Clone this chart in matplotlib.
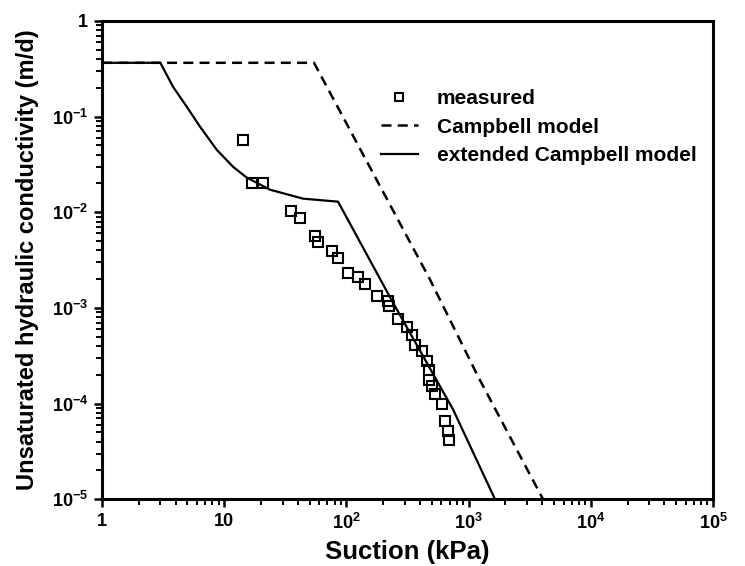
import matplotlib
matplotlib.use('Agg')
import matplotlib.pyplot as plt
from matplotlib.ticker import FixedLocator, FixedFormatter

# 数据
meas_suction = [14.3, 16.9, 20.8, 35.2, 41.7, 55.3, 58.0, 75.8, 85.3, 103, 124, 142, 177,
                217, 223, 264, 311, 344, 364, 413, 457, 470, 474, 499, 531, 603, 641, 678, 691]
meas_k = [0.0573, 0.0204, 0.0201, 0.0102, 0.00868, 0.00563, 0.00493, 0.00391, 0.00336,
          0.00234, 0.00208, 0.00178, 0.00132, 0.00117, 0.00104, 7.57e-4, 6.32e-4, 5.16e-4,
          4.05e-4, 3.51e-4, 2.78e-4, 2.22e-4, 1.75e-4, 1.52e-4, 1.25e-4, 9.8e-5, 6.6e-5,
          5.2e-5, 4.2e-5]

campbell_suction = [1, 54.3, 483, 1194, 4064]
campbell_k = [0.365, 0.365, 1.98e-3, 1.92e-4, 1e-5]

ext_suction = [1, 3.0, 3.81, 4.93, 6.34, 8.68, 11.8, 15.3, 23.7, 44.2, 85.4, 240, 745, 1644]
ext_k = [0.365, 0.365, 0.205, 0.127, 0.0783, 0.045, 0.0299, 0.023, 0.0172, 0.01387, 0.0129,
         1.14e-3, 8.7e-5, 1e-5]

xticks = [1, 10, 1e2, 1e3, 1e4, 1e5]
xticklabels = ['1', '10', r'$10^{2}$', r'$10^{3}$', r'$10^{4}$', r'$10^{5}$']
yticks = [1e-5, 1e-4, 1e-3, 1e-2, 1e-1, 1]
yticklabels = [r'$10^{-5}$', r'$10^{-4}$', r'$10^{-3}$', r'$10^{-2}$', r'$10^{-1}$', '1']

plt.rcParams['font.family'] = ['Liberation Sans', 'DejaVu Sans']
plt.rcParams['font.weight'] = 'bold'
plt.rcParams['mathtext.fontset'] = 'custom'
plt.rcParams['mathtext.rm'] = 'Liberation Sans:bold'
plt.rcParams['mathtext.it'] = 'Liberation Sans:bold'
plt.rcParams['mathtext.bf'] = 'Liberation Sans:bold'

fig = plt.figure(figsize=(7.45, 5.66), dpi=100)
ax = fig.add_axes([0.137, 0.118, 0.820, 0.845])

ax.plot(meas_suction, meas_k, linestyle='none', marker='s', markersize=7.3,
        markerfacecolor='none', markeredgecolor='black', markeredgewidth=1.5, label='measured')
ax.plot(campbell_suction, campbell_k, color='black', linewidth=1.8,
        linestyle=(0, (4, 2.5)), label='Campbell model')
ax.plot(ext_suction, ext_k, color='black', linewidth=1.6, label='extended Campbell model')

ax.set_xscale('log')
ax.set_yscale('log')
ax.set_xlim(1, 1e5)
ax.set_ylim(1e-5, 1)

ax.xaxis.set_major_locator(FixedLocator(xticks))
ax.xaxis.set_major_formatter(FixedFormatter(xticklabels))
ax.yaxis.set_major_locator(FixedLocator(yticks))
ax.yaxis.set_major_formatter(FixedFormatter(yticklabels))

for s in ax.spines.values():
    s.set_linewidth(2.2)
ax.tick_params(which='major', direction='out', length=6, width=1.8, labelsize=13, pad=4)
ax.tick_params(which='minor', direction='out', length=4, width=1.4)
ax.tick_params(top=False, right=False, which='both')

ax.set_xlabel('Suction (kPa)', fontsize=18.5, fontweight='bold', labelpad=5)
ax.set_ylabel('Unsaturated hydraulic conductivity (m/d)', fontsize=17, fontweight='bold', labelpad=9)

leg = ax.legend(loc='upper left', bbox_to_anchor=(0.456, 0.857), frameon=False,
                fontsize=15, handlelength=1.8, handletextpad=0.9, labelspacing=0.45,
                borderpad=0, borderaxespad=0, markerscale=0.8)

plt.savefig('out.png', dpi=100)
